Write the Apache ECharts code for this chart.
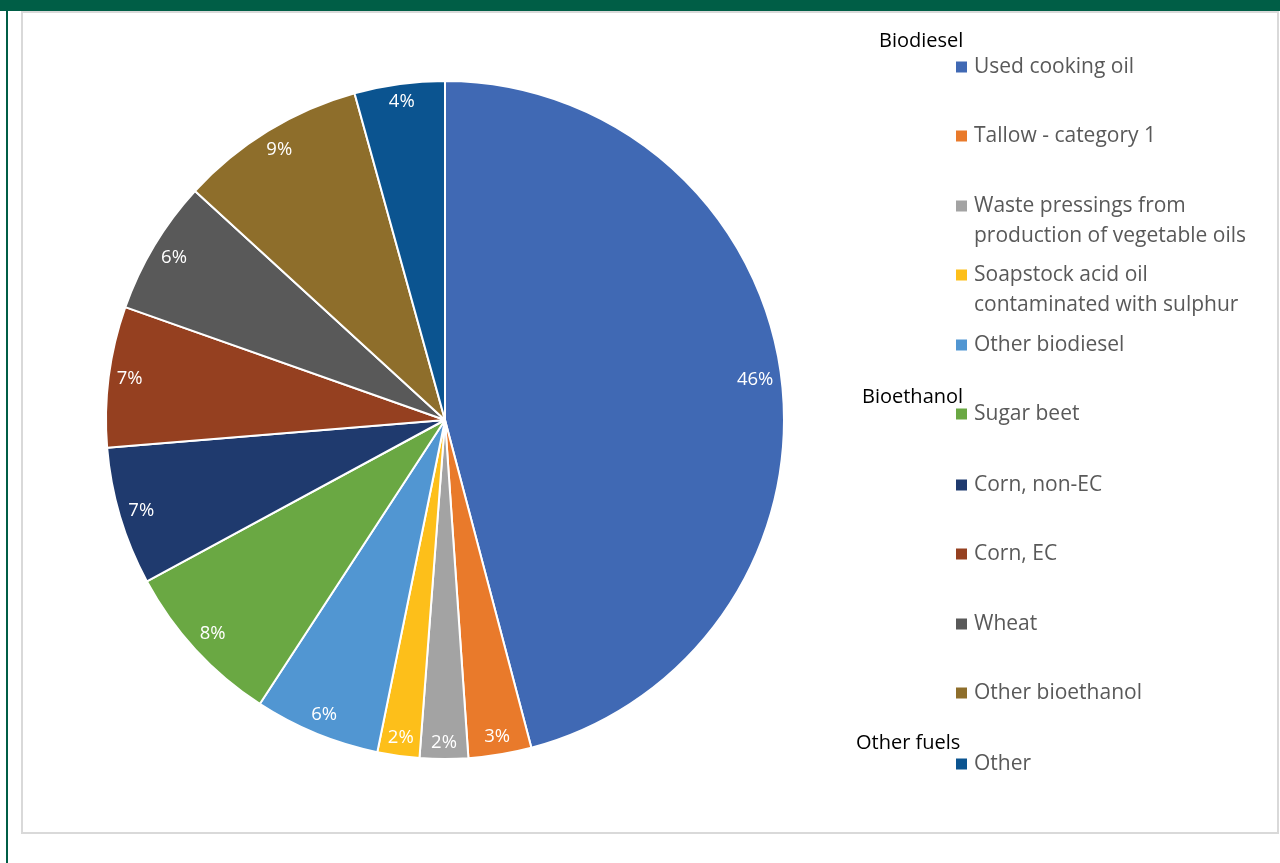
<!DOCTYPE html>
<html>
<head>
<meta charset="utf-8">
<script src="https://cdn.jsdelivr.net/npm/echarts@6/dist/echarts.min.js"></script>
<style>
html,body{margin:0;padding:0;background:#fff;}
#chart{width:1280px;height:863px;}
</style>
</head>
<body>
<div id="chart"></div>
<script>
// ---- data ----
const categories = [
  'Used cooking oil',
  'Tallow - category 1',
  'Waste pressings from\nproduction of vegetable oils',
  'Soapstock acid oil\ncontaminated with sulphur',
  'Other biodiesel',
  'Sugar beet',
  'Corn, non-EC',
  'Corn, EC',
  'Wheat',
  'Other bioethanol',
  'Other'
];
// shares in percent (labels show rounded values)
const values = [45.9, 3.0, 2.3, 2.0, 6.0, 7.9, 6.6, 6.7, 6.4, 8.9, 4.3];
const groupHeadings = ['Biodiesel', 'Bioethanol', 'Other fuels'];

// ---- styling ----
const colors = ['#4069B4', '#E97A2B', '#A3A3A3', '#FDBF1A', '#5196D2', '#6AA843',
                '#1F3A6E', '#954020', '#595959', '#8E6E2B', '#0B5490'];
const FONT = '"Open Sans", "Noto Sans", sans-serif';
const legendFirstLineY = [67, 136, 206, 275, 345, 414, 485, 554, 624, 693, 764];
const headingPos = [[879, 40], [862, 396], [856, 742]];

const CX = 445, CY = 420, R = 339, LABEL_MARGIN = 7;

const pieData = categories.map((n, i) => ({ name: n, value: values[i], itemStyle: { color: colors[i] } }));

const legends = categories.map((n, i) => {
  const twoLine = n.indexOf('\n') >= 0;
  return {
    data: [{ name: n }],
    left: 956,
    top: legendFirstLineY[i] - 15,
    orient: 'vertical',
    padding: 0,
    itemWidth: 11,
    itemHeight: twoLine ? 41 : 11,
    icon: twoLine ? 'path://M0,0H11V11H0Z M0,40.95H0.05V41H0Z' : 'rect',
    itemStyle: { borderWidth: 0 },
    selectedMode: false,
    textStyle: {
      fontSize: 21,
      fontFamily: FONT,
      color: '#595959',
      lineHeight: 30,
      padding: [0, 0, 0, 2]
    }
  };
});

// "inside end" placement: slide the library's inside label outward along its own ray
function insideEnd(params) {
  const r = params.labelRect;
  const lx = r.x + r.width / 2, ly = r.y + r.height / 2;
  let ux = lx - CX, uy = ly - CY;
  const L = Math.hypot(ux, uy) || 1;
  ux /= L; uy /= L;
  const d = R - LABEL_MARGIN - (r.width / 2 * Math.abs(ux) + r.height / 2 * Math.abs(uy));
  return { x: CX + ux * d, y: CY + uy * d, align: 'center', verticalAlign: 'middle' };
}

const chart = echarts.init(document.getElementById('chart'), null, { renderer: 'canvas' });
chart.setOption({
  animation: false,
  backgroundColor: '#ffffff',
  graphic: [
    { type: 'rect', z: -10, shape: { x: 0, y: 0, width: 1280, height: 11 }, style: { fill: '#005E46' } },
    { type: 'rect', z: -10, shape: { x: 6, y: 0, width: 2, height: 863 }, style: { fill: '#005E46' } },
    { type: 'rect', z: -10, shape: { x: 22, y: 12, width: 1256, height: 821 },
      style: { fill: '#ffffff', stroke: '#D9D9D9', lineWidth: 2 } }
  ],
  title: groupHeadings.map((t, i) => ({
    text: t,
    left: headingPos[i][0],
    top: headingPos[i][1] - 9,
    padding: 0,
    textStyle: { fontSize: 20, fontWeight: 'normal', fontFamily: FONT, color: '#000000' }
  })),
  legend: legends,
  series: [
    {
      type: 'pie',
      center: [CX, CY],
      radius: R,
      startAngle: 90,
      clockwise: true,
      data: pieData,
      label: {
        show: true,
        position: 'inside',
        formatter: p => Math.round(p.value) + '%',
        color: '#ffffff',
        fontSize: 18.5,
        fontFamily: FONT
      },
      labelLayout: insideEnd,
      labelLine: { show: false },
      itemStyle: { borderColor: '#ffffff', borderWidth: 2 },
      emphasis: { disabled: true }
    }
  ]
});
</script>
</body>
</html>
